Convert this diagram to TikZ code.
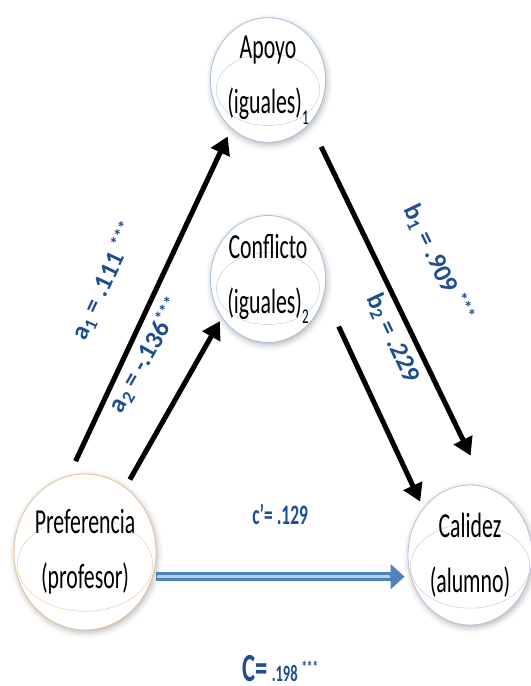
\documentclass[tikz,border=0pt]{standalone}
\usepackage{fontspec}
\setmainfont{Carlito}
\newfontfamily\narrowfont[FakeStretch=0.62]{Carlito}
\usetikzlibrary{arrows.meta,shapes.geometric,shadows.blur}

\definecolor{coefblue}{HTML}{1F4E8F}
\definecolor{pathblue}{HTML}{4F81BD}
\definecolor{pathlight}{HTML}{B8D0EE}
\definecolor{ringblue}{HTML}{A6C1DE}
\definecolor{ringpeach}{HTML}{E6C096}
\definecolor{ringlilac}{HTML}{C6B8DA}

% lowered index after "(iguales)"
\newcommand{\lowsub}[1]{\raisebox{-0.3em}{\fontsize{18}{18}\selectfont#1}}
% significance stars
\newcommand{\stars}{\raisebox{0.3em}{\fontsize{15}{15}\selectfont***}}

\begin{document}
\begin{tikzpicture}[x=0.03cm, y=-0.03cm,
  var/.style n args={3}{ellipse, draw=#1, line width=0.7pt, fill=white,
    minimum width=#2, minimum height=#3, inner sep=0pt, align=center,
    font=\narrowfont\fontsize{30}{47}\selectfont,
    blur shadow={shadow xshift=1pt, shadow yshift=-2pt, shadow blur radius=5pt, shadow opacity=30},
    path picture={\draw[#1!70, line width=0.5pt]
      ([yshift=-0.08*#3]path picture bounding box.center) ellipse [x radius=#2/2-2pt, y radius=0.3*#3];}},
  coef/.style={text=coefblue, font=\bfseries\fontsize{22}{22}\selectfont},
  flat/.style={text=coefblue, font=\narrowfont\bfseries\fontsize{24}{24}\selectfont},
  conn/.style={line width=4.3pt, -{Triangle[length=15pt,width=17pt]}},
  cpath/.style={line width=7.6pt, pathblue, -{Triangle[length=12pt,width=21pt]}},
  cstripe/.style={line width=2.4pt, pathlight, line cap=round}]
\useasboundingbox (0,0) rectangle (531,686);

\node[var={ringblue}{3.24cm}{3.6cm}] (apoyo) at (268,80) {Apoyo\\(iguales)\lowsub{1}};
\node[var={ringblue}{3.24cm}{3.6cm}] (conflicto) at (268,279) {Conflicto\\(iguales)\lowsub{2}};
\node[var={ringpeach}{4.2cm}{4.68cm}] (pref) at (85,552) {Preferencia\\(profesor)};
\node[var={ringlilac}{3.72cm}{4.2cm}] (calidez) at (470,555) {Calidez\\(alumno)};

% indirect paths
\draw[conn, shorten <=0.48cm, shorten >=0.26cm] (pref.102) -- (apoyo.233)
  node[coef, sloped, above=27pt, pos=0.5] {a\textsubscript{1} = .111 \stars};
\draw[conn, shorten <=0.27cm, shorten >=0.12cm] (pref.58) -- (conflicto.220)
  node[coef, sloped, above=25pt, pos=0.64] {a\textsubscript{2} = -.136\stars};
\draw[conn, shorten <=0.78cm, shorten >=1.04cm] (apoyo.314) -- (calidez.77)
  node[coef, sloped, above=31pt, pos=0.45] {b\textsubscript{1} = .909 \stars};
\draw[conn, shorten <=1.04cm, shorten >=0.22cm] (conflicto.-16) -- (calidez.135)
  node[coef, sloped, above=23pt, pos=0.29] {b\textsubscript{2} = .229};

% direct path
\draw[cpath, shorten <=0.1cm, shorten >=0.09cm] (pref.-20) -- (pref.-20 -| calidez.west)
  node[flat, midway, above=37pt] {c’= .129}
  node[flat, midway, below=60pt] {{\fontsize{34}{34}\selectfont C=} {\fontsize{20}{20}\selectfont .198} \stars};
\draw[cstripe, shorten <=0.16cm, shorten >=0.55cm] (pref.-20) -- (pref.-20 -| calidez.west);
\end{tikzpicture}
\end{document}
